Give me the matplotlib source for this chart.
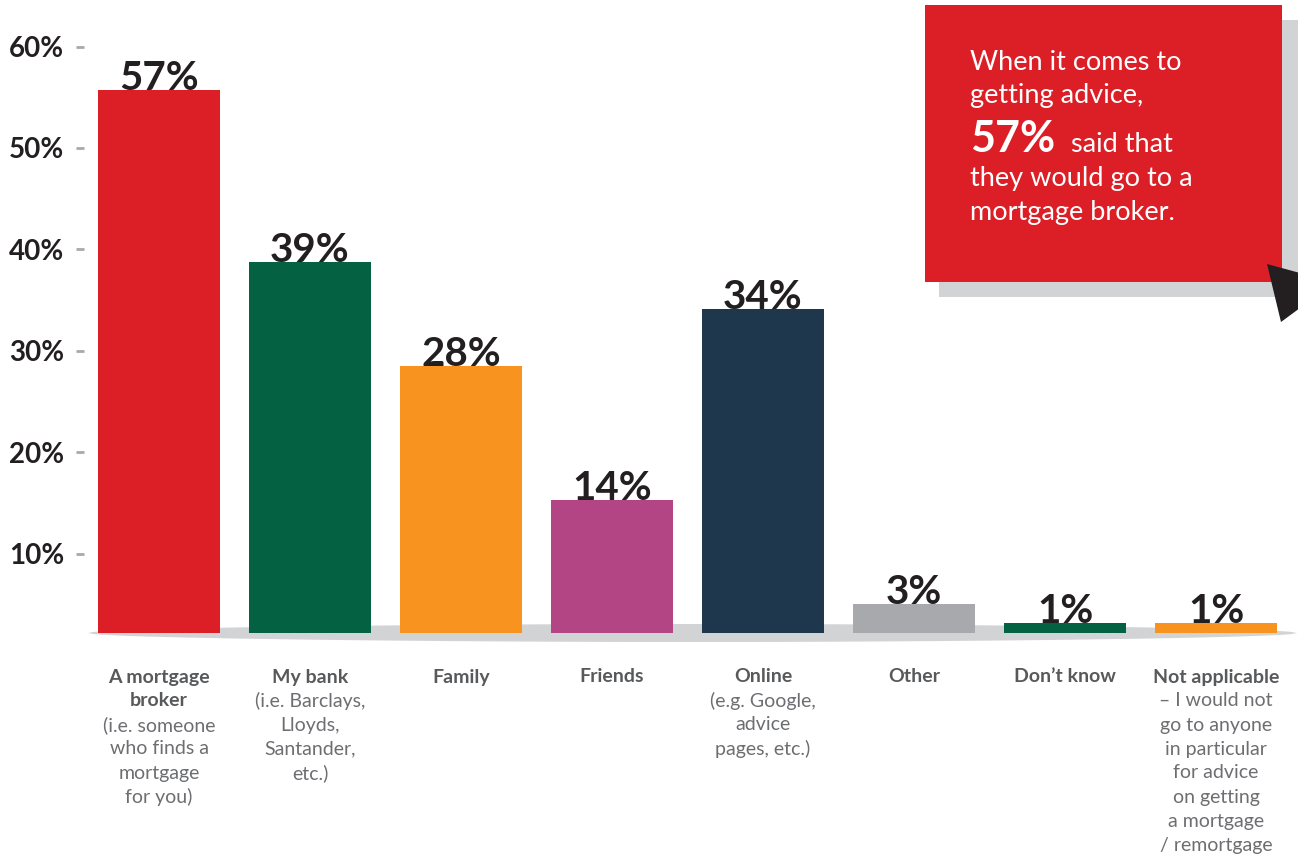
import numpy as np
import matplotlib
matplotlib.use("Agg")
import matplotlib.pyplot as plt
from matplotlib.patches import Polygon, Rectangle
from matplotlib.transforms import blended_transform_factory

plt.rcParams['font.family'] = ['Lato', 'DejaVu Sans']

# ---- data ----
values = [57, 39, 28, 14, 34, 3, 1, 1]
colors = ['#dc1f26', '#046141', '#f7931e', '#b34584', '#1f374c', '#a7a9ac', '#046141', '#f7931e']
cat_bold = [["A mortgage", "broker"], ["My bank"], ["Family"], ["Friends"], ["Online"],
            ["Other"], ["Don\u2019t know"], ["Not applicable"]]
cat_regular = [["(i.e. someone", "who finds a", "mortgage", "for you)"],
               ["(i.e. Barclays,", "Lloyds,", "Santander,", "etc.)"],
               [], [],
               ["(e.g. Google,", "advice", "pages, etc.)"],
               [], [],
               ["\u2013 I would not", "go to anyone", "in particular", "for advice",
                "on getting", "a mortgage", "/ remortgage"]]
tick_values = [10, 20, 30, 40, 50, 60]
tick_labels = ["10%", "20%", "30%", "40%", "50%", "60%"]
callout_lines = ["When it comes to", "getting advice,"]
callout_big = "57%"
callout_after = ["said that", "they would go to a", "mortgage broker."]

W, H = 1298, 859
fig = plt.figure(figsize=(W / 100, H / 100), dpi=100)
fig.patch.set_facecolor('white')

# background overlay (pixel coords) for baseline shadow
bg = fig.add_axes([0, 0, 1, 1], zorder=0)
bg.set_xlim(0, W); bg.set_ylim(H, 0); bg.axis('off')
xs = np.linspace(88, 1297, 200)
t = (xs - 88) / (1297 - 88)
half = 9 * np.sqrt(np.clip(np.sin(np.pi * t), 0, None))
top = 633 - half
bot = 633 + half
poly = np.vstack([np.column_stack([xs, top]), np.column_stack([xs[::-1], bot[::-1]])])
bg.add_patch(Polygon(poly, closed=True, facecolor='#d1d3d4', edgecolor='none'))

# main axes
base_px = 633
scale = 9.52
left_px, right_px = 83.5, 1291.5
rect = [left_px / W, (H - base_px) / H, (right_px - left_px) / W, base_px / H]
ax = fig.add_axes(rect, zorder=1)
ax.patch.set_alpha(0)
x = np.arange(len(values))
ax.bar(x, values, width=122 / 151, color=colors, zorder=2)
ax.set_xlim(-0.5, len(values) - 0.5)
ax.set_ylim(0, base_px / scale)
for s in ax.spines.values():
    s.set_visible(False)
ax.set_xticks([]); ax.set_yticks([])
for i, v in enumerate(values):
    ax.text(i, v, f"{v}%", ha='center', va='baseline', fontsize=29,
            fontweight='bold', color='#231f20', zorder=1)

# tick axis (as drawn in the original, slightly offset scale)
tax = fig.add_axes(rect, zorder=1)
tax.patch.set_alpha(0)
tax.set_ylim((655 - base_px) / 10.14, 655 / 10.14)
tax.set_xticks([])
tax.set_yticks(tick_values)
tax.set_yticklabels(tick_labels)
tax.tick_params(axis='y', length=5.5, width=2, color='#a7a9ac', pad=8.5,
                labelsize=20, labelcolor='#231f20')
for lab in tax.get_yticklabels():
    lab.set_fontweight('bold')
for s in tax.spines.values():
    s.set_visible(False)

# category labels
tr = blended_transform_factory(ax.transData, fig.transFigure)
for i in range(len(values)):
    lines = [(l, True) for l in cat_bold[i]] + [(l, False) for l in cat_regular[i]]
    for j, (l, b) in enumerate(lines):
        ypx = 677 + 24 * j
        ax.text(i, 1 - ypx / H, l, transform=tr, ha='center', va='center',
                fontsize=14, fontweight='bold' if b else 'normal',
                color='#58595b' if b else '#6d6e71', clip_on=False)

# callout overlay
fg = fig.add_axes([0, 0, 1, 1], zorder=3)
fg.set_xlim(0, W); fg.set_ylim(H, 0); fg.axis('off')
fg.add_patch(Rectangle((939, 20), W - 939, 277, facecolor='#d1d3d4', edgecolor='none'))
fg.add_patch(Rectangle((925, 5), 357, 277, facecolor='#dc1f26', edgecolor='none'))
fg.add_patch(Polygon([(1267, 264), (1300, 273), (1300, 308), (1281, 322)], closed=True,
                     facecolor='#231f20', edgecolor='none'))
fg.text(970, 70, callout_lines[0], fontsize=19.5, color='white', va='baseline')
fg.text(970, 103, callout_lines[1], fontsize=19.5, color='white', va='baseline')
fg.text(970, 152, callout_big, fontsize=31, fontweight='bold', color='white', va='baseline')
fg.text(1071, 152, callout_after[0], fontsize=19.5, color='white', va='baseline')
fg.text(970, 186, callout_after[1], fontsize=19.5, color='white', va='baseline')
fg.text(970, 220, callout_after[2], fontsize=19.5, color='white', va='baseline')

fig.savefig("out.png", dpi=100)
